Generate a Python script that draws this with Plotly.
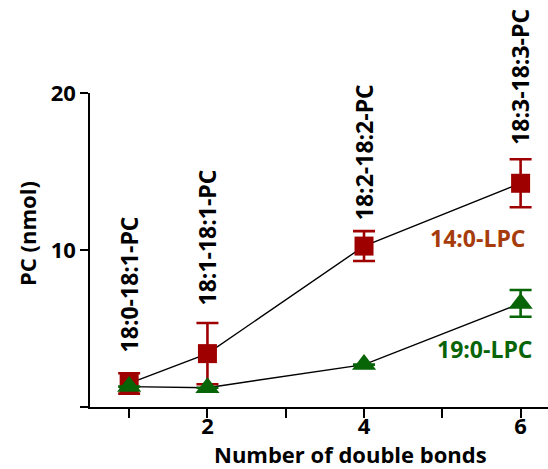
import plotly.graph_objects as go

# Number of double bonds in the PC species
double_bonds = [1, 2, 4, 6]
species = ["18:0-18:1-PC", "18:1-18:1-PC", "18:2-18:2-PC", "18:3-18:3-PC"]

# PC formed (nmol), mean and error, per LPC acceptor
lpc14_mean = [1.5, 3.4, 10.25, 14.25]
lpc14_err = [0.65, 1.95, 0.95, 1.53]
lpc19_mean = [1.3, 1.23, 2.7, 6.6]
lpc19_err = [None, None, None, 0.85]

x_tickvals = [1, 2, 3, 4, 5, 6]
x_ticktext = ["", "2", "", "4", "", "6"]
y_tickvals = [0, 10, 20]
y_ticktext = ["", "10", "20"]

RED = "#9e0000"
GREEN = "#076407"
LBL14 = "#a63c0c"
FONT = "Open Sans"

W, H = 548, 469
ML, MR, MT, MB = 90, 0, 93, 62
PW, PH = W - ML - MR, H - MT - MB


def px_to_paper(px, py):
    """Pixel position (from top-left) to paper coordinates."""
    return (px - ML) / PW, (H - py - MB) / PH


fig = go.Figure()

for mean, err, col, sym, size in [
    (lpc14_mean, lpc14_err, RED, "square", 19),
    (lpc19_mean, lpc19_err, GREEN, "triangle-up", 21),
]:
    fig.add_trace(go.Scatter(
        x=double_bonds, y=mean, mode="lines",
        line=dict(color="black", width=1.4),
        hoverinfo="skip", showlegend=False, cliponaxis=False,
    ))
    fig.add_trace(go.Scatter(
        x=double_bonds, y=mean, mode="markers",
        marker=dict(symbol=sym, size=size, color=col, line=dict(width=0)),
        error_y=dict(type="data", array=err, visible=True,
                     color=col, thickness=2.6, width=11),
        showlegend=False, cliponaxis=False,
    ))

# Species labels above each point, written vertically
label_shift = [19, 16, 9, 12]
for xv, m, e, name, sh in zip(double_bonds, lpc14_mean, lpc14_err, species, label_shift):
    fig.add_annotation(
        x=xv, y=m + e, xref="x", yref="y", text=name, textangle=-90,
        showarrow=False, yanchor="bottom", xanchor="center", yshift=sh,
        font=dict(family=FONT, size=23, color="black", weight="bold"),
    )

# Series labels
for text, col, (px, py) in [("14:0-LPC", LBL14, (478, 238)),
                            ("19:0-LPC", GREEN, (485, 349))]:
    ax, ay = px_to_paper(px, py)
    fig.add_annotation(x=ax, y=ay, xref="paper", yref="paper", text=text,
                       showarrow=False, xanchor="center", yanchor="middle",
                       font=dict(family=FONT, size=23, color=col, weight="bold"))

# Axis titles
ax, ay = px_to_paper(350, H)
fig.add_annotation(x=ax, y=ay, xref="paper", yref="paper",
                   text="Number of double bonds", showarrow=False,
                   xanchor="center", yanchor="bottom", yshift=-2,
                   font=dict(family=FONT, size=22, weight="bold"))
ax, ay = px_to_paper(27, 234)
fig.add_annotation(x=ax, y=ay, xref="paper", yref="paper",
                   text="PC (nmol)", showarrow=False, textangle=-90,
                   xanchor="center", yanchor="middle",
                   font=dict(family=FONT, size=22, weight="bold"))

fig.update_layout(
    width=W, height=H,
    margin=dict(l=ML, r=MR, t=MT, b=MB),
    paper_bgcolor="white", plot_bgcolor="white",
    font=dict(family=FONT, size=22, color="black", weight="bold"),
    xaxis=dict(
        range=[0.5, 6.35], showgrid=False, zeroline=False,
        showline=True, linecolor="black", linewidth=1.5,
        ticks="outside", ticklen=9, tickwidth=1.5, tickcolor="black",
        tickvals=x_tickvals, ticktext=x_ticktext, ticklabelstandoff=-10,
        tickfont=dict(family=FONT, size=22, weight="bold"),
    ),
    yaxis=dict(
        range=[0, 20], showgrid=False, zeroline=False,
        showline=True, linecolor="black", linewidth=1.5,
        ticks="outside", ticklen=8, tickwidth=1.5, tickcolor="black",
        tickvals=y_tickvals, ticktext=y_ticktext,
        tickfont=dict(family=FONT, size=22, weight="bold"),
    ),
)

fig.write_html("out.html")
